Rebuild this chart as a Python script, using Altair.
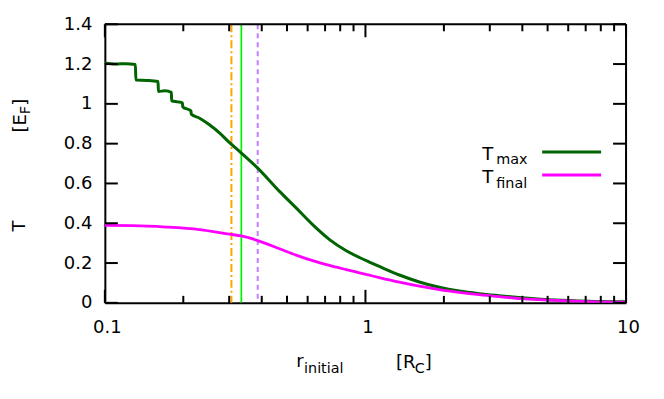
import altair as alt
import pandas as pd

# ---- data ----
r_max = [0.100, 0.110, 0.120, 0.131, 0.1315, 0.145, 0.160, 0.1605, 0.170, 0.180,
         0.1805, 0.190, 0.1985, 0.199, 0.214, 0.2145, 0.231, 0.252, 0.276, 0.301,
         0.334, 0.386, 0.468, 0.542, 0.627, 0.728, 0.844, 0.948, 1.035, 1.13,
         1.35, 1.61, 1.92, 2.29, 2.73, 3.26, 3.98, 5.35, 7.2, 10.0]
t_max = [1.205, 1.200, 1.202, 1.198, 1.120, 1.118, 1.112, 1.062, 1.066, 1.058,
         1.015, 1.010, 1.005, 0.985, 0.965, 0.948, 0.928, 0.895, 0.853, 0.805,
         0.753, 0.677, 0.560, 0.477, 0.393, 0.318, 0.262, 0.228, 0.205, 0.183,
         0.140, 0.105, 0.078, 0.059, 0.046, 0.036, 0.026, 0.014, 0.008, 0.005]

r_final = [0.1, 0.128, 0.172, 0.231, 0.301, 0.334, 0.386, 0.468, 0.542, 0.627,
           0.728, 0.844, 0.948, 1.035, 1.13, 1.35, 1.61, 1.92, 2.29, 2.73,
           3.26, 3.98, 5.35, 7.2, 10.0]
t_final = [0.389, 0.388, 0.381, 0.368, 0.345, 0.336, 0.313, 0.272, 0.240, 0.212,
           0.188, 0.167, 0.151, 0.139, 0.127, 0.104, 0.084, 0.067, 0.053, 0.041,
           0.031, 0.021, 0.012, 0.006, 0.003]

vline_orange = 0.306
vline_green = 0.334
vline_purple = 0.386

x_label_ticks = [0.1, 1, 10]
x_minor_ticks = [0.2, 0.3, 0.4, 0.5, 0.6, 0.7, 0.8, 0.9, 2, 3, 4, 5, 6, 7, 8, 9]
y_ticks = [0, 0.2, 0.4, 0.6, 0.8, 1, 1.2, 1.4]

# ---- layout ----
W, H = 522, 279
FONT = "DejaVu Sans"
FS = 18
SUB = 14.4
MAJ, MIN = 13, 7

xscale = alt.Scale(type="log", domain=[0.1, 10], nice=False)
yscale = alt.Scale(domain=[0, 1.4], nice=False, zero=False)

common = dict(grid=False, title=None, domainColor="black", domainWidth=2,
              labelColor="black", labelFont=FONT, labelFontSize=FS)

ax_x_main = alt.Axis(orient="bottom", values=x_label_ticks, format="~g",
                     ticks=False, labelPadding=16, labelFlush=False,
                     labelOffset=2, **common)
ax_y_main = alt.Axis(orient="left", values=y_ticks, format="~g", ticks=False,
                     labelPadding=13, **common)

def X(field="r"):
    return alt.X(f"{field}:Q", scale=xscale, axis=ax_x_main)

def Y(field="T"):
    return alt.Y(f"{field}:Q", scale=yscale, axis=ax_y_main)

df_max = pd.DataFrame({"r": r_max, "T": t_max})
df_final = pd.DataFrame({"r": r_final, "T": t_final})

l_max = alt.Chart(df_max).mark_line(color="#006400", strokeWidth=3, clip=True,
                                    interpolate="monotone").encode(x=X(), y=Y())
l_final = alt.Chart(df_final).mark_line(color="#ff00ff", strokeWidth=2.8, clip=True,
                                        interpolate="monotone").encode(x=X(), y=Y())

def vrule(val, color, dash, width):
    df = pd.DataFrame({"r": [val]})
    kw = dict(color=color, strokeWidth=width)
    if dash:
        kw["strokeDash"] = dash
    return alt.Chart(df).mark_rule(**kw).encode(x=X())

r_orange = vrule(vline_orange, "#ffa500", [8, 3, 2, 3], 2)
r_green = vrule(vline_green, "#00ee00", None, 1.7)
r_purple = vrule(vline_purple, "#c080ff", [5, 4], 2)

# ---- frame and inward ticks ----
one = pd.DataFrame({"a": [0]})
df_xmaj = pd.DataFrame({"r": x_label_ticks})
df_xmin = pd.DataFrame({"r": x_minor_ticks})
df_y = pd.DataFrame({"T": y_ticks})

def xticks(df, y0, y1):
    return alt.Chart(df).mark_rule(color="black", strokeWidth=2).encode(
        x=X(), y=alt.value(y0), y2=alt.value(y1))

def yticks(x0, x1):
    return alt.Chart(df_y).mark_rule(color="black", strokeWidth=2).encode(
        y=Y(), x=alt.value(x0), x2=alt.value(x1))

frame = [
    alt.Chart(one).mark_rule(color="black", strokeWidth=2).encode(
        x=alt.value(0), x2=alt.value(W), y=alt.value(0)),
    alt.Chart(one).mark_rule(color="black", strokeWidth=2).encode(
        x=alt.value(W), y=alt.value(0), y2=alt.value(H)),
    xticks(df_xmaj, H, H - MAJ), xticks(df_xmin, H, H - MIN),
    xticks(df_xmaj, 0, MAJ), xticks(df_xmin, 0, MIN),
    yticks(0, MAJ), yticks(W, W - MAJ),
]

def txt(s, x, y, size=FS, angle=0, align="left"):
    kw = dict(text=s, font=FONT, fontSize=size, color="black", align=align,
              baseline="alphabetic")
    if angle:
        kw["angle"] = angle
    return alt.Chart(one).mark_text(**kw).encode(x=alt.value(x), y=alt.value(y))

def legline(y, color):
    return alt.Chart(one).mark_rule(color=color, strokeWidth=3).encode(
        x=alt.value(438), x2=alt.value(497), y=alt.value(y))

texts = [
    # legend
    txt("T", 378, 136), txt("max", 392, 140, SUB), legline(128, "#006400"),
    txt("T", 378, 159), txt("final", 392, 163.5, SUB), legline(151, "#ff00ff"),
    # x title
    txt("r", 191.7, 343), txt("initial", 199.5, 349, SUB),
    txt("[R", 291.7, 344), txt("C", 310.5, 349, SUB), txt("]", 320.5, 344),
    # y titles (rotated)
    txt("T", -80, 202, FS, 270, "center"),
    txt("[E", -79, 108.5, FS, 270), txt("F", -75, 90, SUB, 270),
    txt("]", -79, 81.5, FS, 270),
]

chart = alt.layer(r_orange, r_green, r_purple, l_max, l_final, *frame, *texts).properties(
    width=W, height=H,
    autosize=alt.AutoSizeParams(type="none"),
    padding={"left": 97, "top": 16, "right": 30, "bottom": 90},
).configure_view(stroke=None)

chart.save("out.html", embed_options={"renderer": "svg", "actions": False})
